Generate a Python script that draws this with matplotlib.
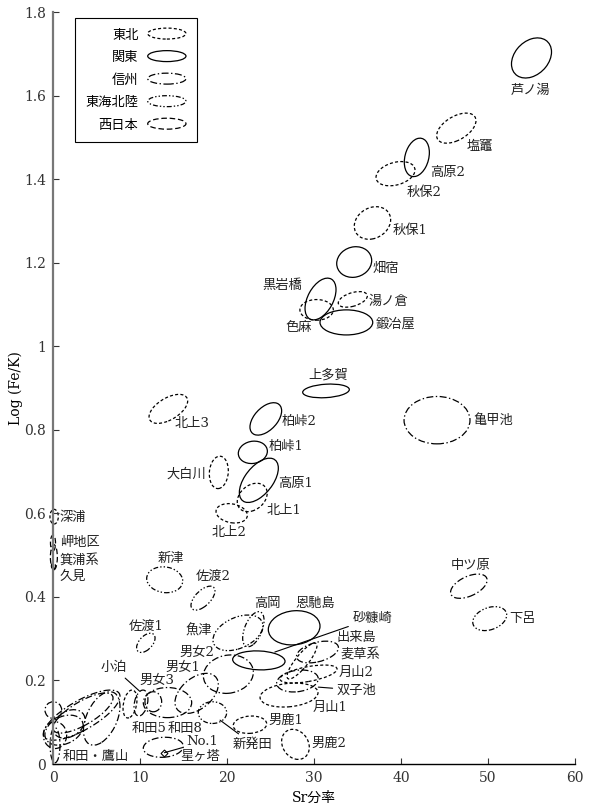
import numpy as np
import matplotlib
matplotlib.use("Agg")
import matplotlib.pyplot as plt
from matplotlib.patches import Ellipse, Patch
from matplotlib.transforms import Affine2D
from matplotlib.legend_handler import HandlerPatch

plt.rcParams['font.family'] = ['DejaVu Serif', 'Noto Sans CJK JP']
plt.rcParams['lines.scale_dashes'] = False

# ---------------- data ----------------
# source ellipses: centre (Sr fraction, Log(Fe/K)), half ranges, correlation
sources = ['芦ノ湯', '塩竈', '高原2', '秋保2', '秋保1', '畑宿', '黒岩橋', '色麻', '湯ノ倉', '鍛冶屋',
           '上多賀', '亀甲池', '北上3', '柏峠2', '柏峠1', '高原1', '北上1', '北上2', '大白川', '深浦',
           '岬地区', '箕浦系', '久見', '新津', '佐渡2', '佐渡1', '高岡', '魚津', '恩馳島', '砂糠崎',
           '麦草系', '出来島', '月山2', '双子池', '月山1', '男鹿1', '男鹿2', '中ツ原', '下呂', '男女2',
           '男女1', '男女3', '新発田', '星ヶ塔', '小泊', '和田5', '和田8',
           '和田・鷹山a', '和田・鷹山b', '和田・鷹山c', '和田・鷹山d', '和田・鷹山e', '和田・鷹山f',
           '和田・鷹山g', '和田・鷹山h']
regions = ['関東', '東北', '関東', '東北', '東北', '関東', '関東', '東北', '東北', '関東',
           '関東', '信州', '東北', '関東', '関東', '関東', '東北', '東北', '東北', '東北',
           '西日本', '西日本', '西日本', '東海北陸', '東海北陸', '東海北陸', '東海北陸', '東海北陸', '関東', '関東',
           '信州', '東北', '東北', '信州', '東北', '東北', '東北', '信州', '東海北陸', '信州',
           '信州', '信州', '東海北陸', '信州', '東北', '信州', '信州',
           '信州', '信州', '信州', '信州', '信州', '信州', '信州', '信州']
sr_center = [55.0, 46.36, 41.82, 39.37, 36.72, 34.62, 30.75, 30.3, 34.46, 33.72,
             31.38, 44.14, 13.26, 24.46, 22.97, 23.66, 22.9, 20.54, 19.06, 0.13,
             0.0, 0.1, 0.05, 12.84, 17.24, 10.67, 23.03, 21.26, 27.72, 23.66,
             30.4, 28.62, 29.37, 28.1, 27.13, 22.64, 27.87, 47.8, 50.2, 20.16,
             16.51, 13.16, 18.33, 12.68, 8.85, 10.11, 11.53,
             3.3, 3.45, 5.6, 0.04, 1.27, 0.23, 0.23, 1.84]
fek_center = [1.690, 1.522, 1.452, 1.413, 1.295, 1.2015, 1.113, 1.087, 1.112, 1.057,
              0.893, 0.823, 0.850, 0.826, 0.746, 0.679, 0.638, 0.600, 0.698, 0.592,
              0.529, 0.495, 0.474, 0.441, 0.397, 0.290, 0.3226, 0.314, 0.326, 0.248,
              0.268, 0.2465, 0.2154, 0.1987, 0.165, 0.094, 0.047, 0.4256, 0.348, 0.215,
              0.169, 0.147, 0.123, 0.040, 0.1436, 0.146, 0.149,
              0.117, 0.122, 0.109, 0.129, 0.081, 0.069, 0.045, 0.096]
sr_half = [2.3, 2.26, 1.44, 2.24, 2.09, 2.01, 1.78, 1.92, 1.67, 3.03,
           2.68, 3.79, 2.22, 1.82, 1.67, 2.24, 1.72, 1.80, 1.09, 0.48,
           0.29, 0.40, 0.23, 2.07, 1.38, 1.06, 1.23, 2.87, 2.97, 3.01,
           2.41, 1.72, 3.28, 2.39, 3.33, 1.92, 1.59, 2.1, 1.95, 2.87,
           2.49, 2.78, 1.63, 2.3, 0.8, 0.8, 0.96,
           4.4, 3.45, 2.1, 0.96, 2.2, 1.34, 0.57, 1.84]
fek_half = [0.048, 0.036, 0.046, 0.029, 0.039, 0.0367, 0.050, 0.0247, 0.0187, 0.030,
            0.0164, 0.0567, 0.0347, 0.0388, 0.0268, 0.053, 0.034, 0.0232, 0.0388, 0.0176,
            0.019, 0.030, 0.007, 0.031, 0.0287, 0.023, 0.042, 0.0426, 0.041, 0.0227,
            0.026, 0.043, 0.0215, 0.0263, 0.0287, 0.0208, 0.036, 0.029, 0.0287, 0.046,
            0.048, 0.036, 0.026, 0.024, 0.0335, 0.031, 0.024,
            0.060, 0.048, 0.064, 0.020, 0.036, 0.032, 0.042, 0.034]
corr = [0.3, 0.5, 0.25, 0.3, 0.2, 0.1, 0.45, 0.0, 0.45, 0.0,
        0.2, 0.0, 0.55, 0.5, 0.1, 0.55, 0.3, -0.2, 0.1, 0.0,
        0.0, 0.0, 0.0, -0.1, 0.6, 0.5, 0.5, 0.4, 0.1, -0.1,
        0.4, 0.85, 0.55, 0.2, 0.2, 0.1, -0.2, 0.5, 0.3, 0.1,
        0.45, 0.0, 0.0, 0.1, 0.3, 0.3, 0.0,
        0.75, 0.75, 0.45, 0.0, 0.3, 0.0, 0.0, 0.3]

# sample point No.1
no1_sr = [12.8]
no1_fek = [0.027]

region_order = ['東北', '関東', '信州', '東海北陸', '西日本']
x_ticks = [0, 10, 20, 30, 40, 50, 60]
y_ticks = [0, 0.2, 0.4, 0.6, 0.8, 1.0, 1.2, 1.4, 1.6, 1.8]
y_ticklabels = ['0', '0.2', '0.4', '0.6', '0.8', '1', '1.2', '1.4', '1.6', '1.8']

# ---------------- layout / styles ----------------
styles = {
    '東北': (0, (2.2, 1.6)),
    '関東': 'solid',
    '信州': (0, (5, 1.8, 1, 1.8)),
    '東海北陸': (0, (3.5, 1.5, 1, 1.5, 1, 1.5)),
    '西日本': (0, (4, 2)),
}

# label placements (text, x, y, ha)
label_pos = [
    ('芦ノ湯', 54.9, 1.613, 'center'), ('塩竈', 49.1, 1.479, 'center'), ('高原2', 45.3, 1.415, 'center'),
    ('秋保2', 42.7, 1.367, 'center'), ('秋保1', 41.0, 1.276, 'center'), ('畑宿', 38.3, 1.187, 'center'),
    ('黒岩橋', 26.4, 1.146, 'center'), ('色麻', 28.2, 1.046, 'center'), ('湯ノ倉', 38.6, 1.108, 'center'),
    ('鍛冶屋', 39.4, 1.053, 'center'), ('上多賀', 31.6, 0.931, 'center'), ('亀甲池', 50.6, 0.823, 'center'),
    ('北上3', 16.0, 0.816, 'center'), ('柏峠2', 28.3, 0.819, 'center'), ('柏峠1', 26.8, 0.759, 'center'),
    ('高原1', 27.9, 0.672, 'center'), ('北上1', 26.5, 0.606, 'center'), ('北上2', 20.2, 0.555, 'center'),
    ('大白川', 15.3, 0.694, 'center'), ('深浦', 0.8, 0.589, 'left'), ('岬地区', 0.8, 0.529, 'left'),
    ('箕浦系', 0.8, 0.488, 'left'), ('久見', 0.8, 0.448, 'left'), ('新津', 13.5, 0.493, 'center'),
    ('佐渡2', 18.4, 0.448, 'center'), ('佐渡1', 10.7, 0.330, 'center'), ('高岡', 24.6, 0.385, 'center'),
    ('魚津', 16.7, 0.318, 'center'), ('恩馳島', 30.2, 0.385, 'center'), ('出来島', 34.9, 0.304, 'center'),
    ('麦草系', 35.3, 0.261, 'center'), ('月山2', 34.8, 0.220, 'center'), ('月山1', 31.8, 0.136, 'center'),
    ('男鹿1', 26.8, 0.105, 'center'), ('男鹿2', 31.7, 0.050, 'center'), ('中ツ原', 48.0, 0.476, 'center'),
    ('下呂', 54.0, 0.349, 'center'), ('男女2', 16.5, 0.266, 'center'), ('男女1', 14.9, 0.230, 'center'),
    ('男女3', 12.0, 0.201, 'center'), ('星ヶ塔', 16.9, 0.017, 'center'), ('和田5', 11.0, 0.084, 'center'),
    ('和田8', 15.2, 0.084, 'center'), ('和田・鷹山', 4.9, 0.017, 'center'),
]
# labels with leader lines: (text, text x, text y, target x, target y)
leader_pos = [
    ('砂糠崎', 36.7, 0.349, 25.5, 0.268), ('双子池', 34.9, 0.177, 30.5, 0.184),
    ('新発田', 22.9, 0.048, 19.2, 0.105), ('No.1', 17.2, 0.053, 12.8, 0.027),
    ('小泊', 7.0, 0.230, 9.92, 0.175),
]

LW = 0.9
FS = 9.5

fig = plt.figure(figsize=(5.91, 8.07), dpi=100)
ax = fig.add_axes([53 / 591, 43 / 807, 522 / 591, 752 / 807])
ax.set_xlim(0, 60)
ax.set_ylim(0, 1.8)

for name, reg, cx, cy, a, b, r in zip(sources, regions, sr_center, fek_center, sr_half, fek_half, corr):
    m = np.array([[a, 0.0, cx], [b * r, b * np.sqrt(1 - r * r), cy], [0.0, 0.0, 1.0]])
    e = Ellipse((0, 0), 2, 2, facecolor='none', edgecolor='black', lw=LW,
                linestyle=styles[reg], transform=Affine2D(m) + ax.transData, clip_on=False)
    ax.add_patch(e)

ax.plot(no1_sr, no1_fek, linestyle='none', marker='D', ms=3.5, mfc='white', mec='black', mew=0.8)

for t, x, y, ha in label_pos:
    ax.text(x, y, t, ha=ha, va='center', fontsize=FS, color='#222222')
for t, x, y, tx, ty in leader_pos:
    ax.annotate(t, xy=(tx, ty), xytext=(x, y), ha='center', va='center', fontsize=FS, color='#222222',
                arrowprops=dict(arrowstyle='-', lw=0.8, color='black', shrinkA=1, shrinkB=0))

# axes styling
for s in ['top', 'right']:
    ax.spines[s].set_visible(False)
ax.spines['left'].set_color('#777777')
ax.spines['left'].set_linewidth(1.6)
ax.spines['bottom'].set_color('black')
ax.spines['bottom'].set_linewidth(1.0)
ax.set_xticks(x_ticks)
ax.set_yticks(y_ticks)
ax.set_yticklabels(y_ticklabels)
ax.tick_params(direction='in', length=4, width=0.8, labelsize=10, colors='#333333', pad=5)
ax.set_xlabel('Sr分率', fontsize=10, labelpad=4)
ax.set_ylabel('Log (Fe/K)', fontsize=10, labelpad=1)


class HandlerEllipse(HandlerPatch):
    def create_artists(self, legend, orig_handle, xdescent, ydescent, width, height, fontsize, trans):
        center = 0.5 * width - 0.5 * xdescent, 0.5 * height - 0.5 * ydescent
        p = Ellipse(xy=center, width=width, height=height)
        self.update_prop(p, orig_handle, legend)
        p.set_transform(trans)
        return [p]


handles = [Patch(facecolor='none', edgecolor='black', lw=LW, linestyle=styles[r], label=r) for r in region_order]
leg = ax.legend(handles=handles, handler_map={Patch: HandlerEllipse()}, loc='upper left',
                bbox_to_anchor=(0.042, 0.992), markerfirst=False, fancybox=False, framealpha=1,
                edgecolor='black', fontsize=FS, handlelength=2.9, handleheight=0.9,
                handletextpad=0.7, labelspacing=0.72, borderpad=0.8, borderaxespad=0)
leg.get_frame().set_linewidth(0.8)

fig.savefig('out.png', dpi=100)
